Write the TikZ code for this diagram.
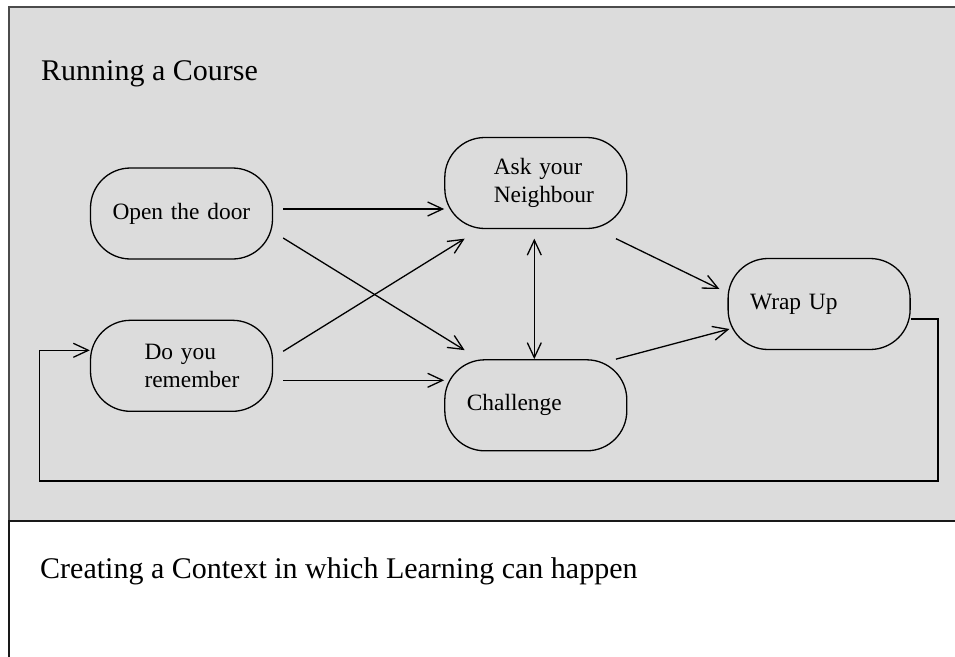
\documentclass[tikz,border=0pt]{standalone}
\usepackage{fontspec}
\setmainfont{Liberation Serif}
\usetikzlibrary{arrows.meta,positioning,calc}
\definecolor{panelgrey}{RGB}{220,220,220}
\definecolor{framegrey}{RGB}{75,75,75}
\newcommand{\stagefont}{\fontsize{23.4}{28}\selectfont}
\newcommand{\headfont}{\fontsize{30}{36}\selectfont}
\tikzset{
  stage/.style={draw,line width=1.3pt,rounded corners=40pt,
    minimum width=182pt,minimum height=91pt,text width=156pt,
    inner xsep=13pt,inner ysep=0pt,align=left,font=\stagefont,indent=9pt},
  indent/.style={execute at begin node={\leftskip=#1}},
  heading/.style={anchor=base west,inner sep=0pt,font=\headfont},
  flow/.style={->,line width=1.3pt},
  panel/.style={draw=framegrey,line width=2pt}
}

\begin{document}
\begin{tikzpicture}[x=1pt,y=-1pt,>={Straight Barb[length=15pt,width=14pt]}]
\useasboundingbox (0,0) rectangle (955,656);
\begin{scope}
\clip (0,0) rectangle (955,656);
\draw[panel,fill=panelgrey] (9,6.5) rectangle (970,521);
\draw[panel,draw=black!90,fill=white] (9,521) rectangle (970,670);
\end{scope}
\node[heading] (course) at (41,80) {Running a Course};
\node[heading] (context) at (40,578) {Creating a Context in which Learning can happen};

\node[stage] (open) at (181.5,213.5) {Open the door};
\node[stage, indent=41pt, below=60pt of open] (remember) {Do you\\remember};
\node[stage, indent=36pt, right=171pt of open, yshift=30.5pt] (ask) {Ask your\\Neighbour};
\node[stage, below=130pt of ask] (challenge) {Challenge};
\node[stage, right=100pt of ask, yshift=-121pt] (wrap) {Wrap Up};

\coordinate (openout) at ([shift={(10,-4.5)}]open.east);
\coordinate (rememberout) at ([shift={(10,14.5)}]remember.east);
\coordinate (loopin) at ([shift={(0,-15.5)}]remember.west);
\draw[flow] (openout) -- (openout -| ask.west);
\draw[flow] ([shift={(10,24.5)}]open.east) -- ([shift={(20.5,-9)}]challenge.north west);
\draw[flow] ([shift={(10,-14.5)}]remember.east) -- ([shift={(20.5,9.5)}]ask.south west);
\draw[flow] (rememberout) -- (rememberout -| challenge.west);
\draw[flow,<->] ([shift={(-1.5,9.5)}]ask.south) -- ([xshift=-1.5pt]challenge.north);
\draw[flow] ([shift={(-11.5,9.5)}]ask.south east) -- ([shift={(-8,-15)}]wrap.west);
\draw[flow] ([shift={(-11.5,0)}]challenge.north east) -- ([shift={(2,25)}]wrap.west);
\draw[flow] ([shift={(0,15)}]wrap.east) -| (938,481) -| ([xshift=-50.5pt]loopin) -- (loopin);
\end{tikzpicture}
\end{document}
